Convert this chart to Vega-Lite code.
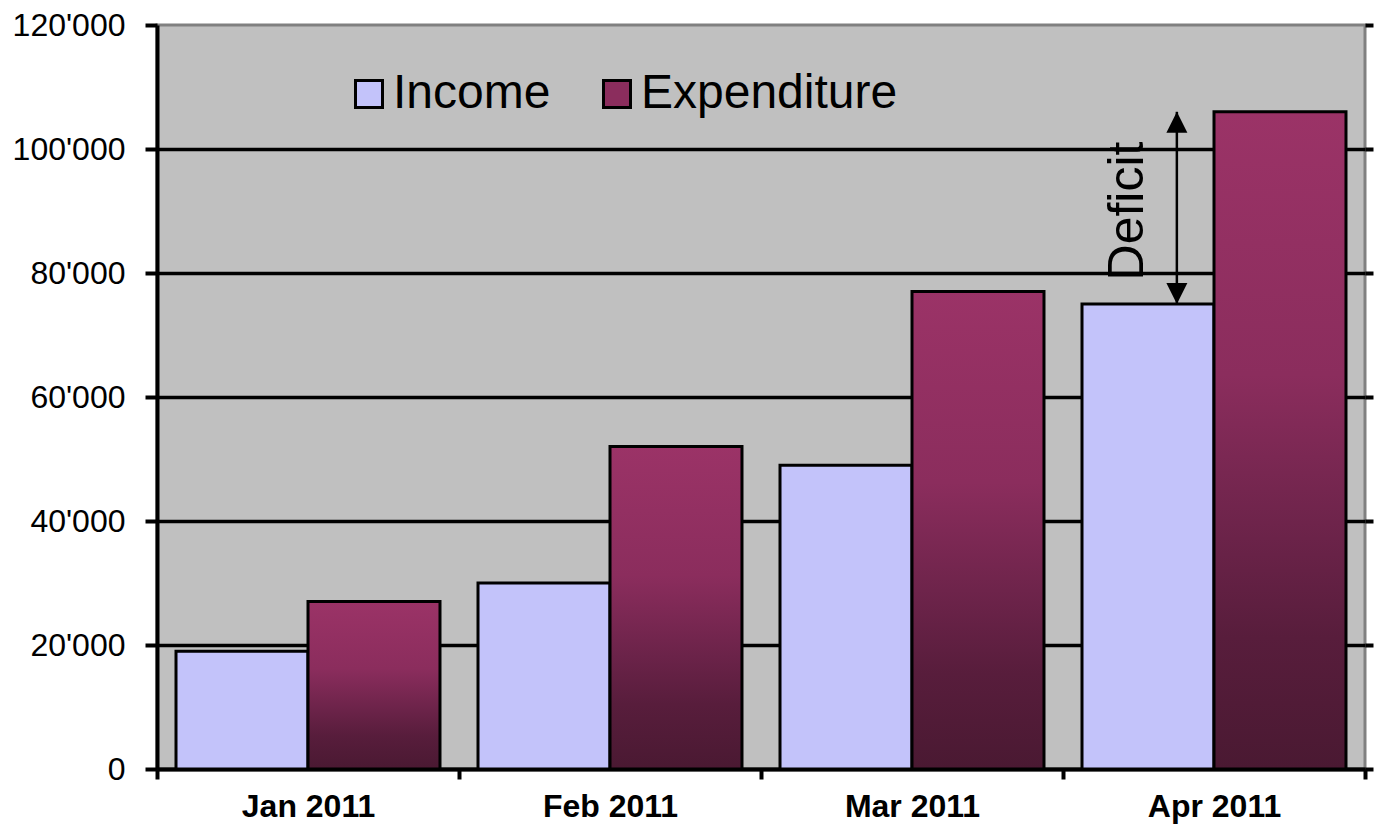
{
  "$schema": "https://vega.github.io/schema/vega-lite/v6.json",
  "width": 1208,
  "height": 744,
  "autosize": {"type": "none"},
  "padding": {"left": 157, "top": 25, "right": 9, "bottom": 56},
  "background": "white",
  "config": {
    "view": {"fill": "#c0c0c0", "stroke": "#808080", "strokeWidth": 3},
    "font": "Liberation Sans"
  },
  "datasets": {
    "bars": [
      {"month": "Jan 2011", "series": "Income", "value": 19000},
      {"month": "Jan 2011", "series": "Expenditure", "value": 27000},
      {"month": "Feb 2011", "series": "Income", "value": 30000},
      {"month": "Feb 2011", "series": "Expenditure", "value": 52000},
      {"month": "Mar 2011", "series": "Income", "value": 49000},
      {"month": "Mar 2011", "series": "Expenditure", "value": 77000},
      {"month": "Apr 2011", "series": "Income", "value": 75000},
      {"month": "Apr 2011", "series": "Expenditure", "value": 106000}
    ],
    "note": [
      {"month": "Apr 2011", "low": 75000, "high": 106000, "mid": 90000, "label": "Deficit"}
    ]
  },
  "layer": [
    {
      "data": {"name": "bars"},
      "transform": [{"filter": "datum.series === 'Income'"}],
      "mark": {"type": "bar", "stroke": "black", "strokeWidth": 3},
      "encoding": {
        "x": {
          "field": "month", "type": "nominal",
          "sort": ["Jan 2011", "Feb 2011", "Mar 2011", "Apr 2011"],
          "scale": {"paddingInner": 0, "paddingOuter": 0},
          "axis": {
            "title": null, "labelAngle": 0, "labelFontSize": 32, "labelFontWeight": "bold",
            "labelColor": "black", "labelPadding": 12, "tickBand": "extent", "tickSize": 10,
            "tickWidth": 4, "tickColor": "black", "domainColor": "black", "domainWidth": 4,
            "grid": false
          }
        },
        "xOffset": {
          "field": "series",
          "scale": {"domain": ["Income", "Expenditure"], "paddingInner": 0, "paddingOuter": 0.144}
        },
        "y": {
          "field": "value", "type": "quantitative",
          "scale": {"domain": [0, 120000], "nice": false},
          "axis": {
            "orient": "left", "title": null,
            "values": [0, 20000, 40000, 60000, 80000, 100000, 120000],
            "labelExpr": "replace(format(datum.value, ','), ',', \"'\")",
            "labelFontSize": 32, "labelColor": "black", "labelPadding": 20,
            "tickSize": 12, "tickWidth": 4, "tickColor": "black",
            "domainColor": "black", "domainWidth": 4,
            "grid": true, "gridWidth": 3.5,
            "gridColor": {"condition": {"test": "datum.value === 120000", "value": "transparent"}, "value": "black"}
          }
        },
        "color": {
          "field": "series", "type": "nominal",
          "scale": {"domain": ["Income", "Expenditure"], "range": ["#c3c3fa", "#8b2d5d"]},
          "legend": {
            "title": null, "orient": "none", "direction": "horizontal",
            "legendX": 188, "legendY": 45,
            "symbolType": "square", "symbolSize": 729,
            "symbolStrokeColor": "black", "symbolStrokeWidth": 3,
            "labelFontSize": 48, "labelColor": "black", "labelOffset": 0,
            "columnPadding": 42, "labelLimit": 400
          }
        }
      }
    },
    {
      "data": {"name": "bars"},
      "transform": [{"filter": "datum.series === 'Expenditure'"}],
      "mark": {
        "type": "bar", "stroke": "black", "strokeWidth": 3,
        "fill": {
          "gradient": "linear", "x1": 0, "y1": 0, "x2": 0, "y2": 1,
          "stops": [
            {"offset": 0, "color": "#9b3367"},
            {"offset": 0.4, "color": "#8b2d5d"},
            {"offset": 0.65, "color": "#6b2349"},
            {"offset": 0.8, "color": "#581d3c"},
            {"offset": 1, "color": "#4a1932"}
          ]
        }
      },
      "encoding": {
        "x": {"field": "month", "type": "nominal", "sort": ["Jan 2011", "Feb 2011", "Mar 2011", "Apr 2011"]},
        "xOffset": {"field": "series"},
        "y": {"field": "value", "type": "quantitative", "axis": null}
      }
    },
    {
      "data": {"name": "note"},
      "mark": {"type": "rule", "color": "black", "strokeWidth": 2.5},
      "encoding": {
        "x": {"field": "month", "type": "nominal", "sort": ["Jan 2011", "Feb 2011", "Mar 2011", "Apr 2011"], "bandPosition": 0.377},
        "y": {
          "field": "low", "type": "quantitative",
          "axis": {
            "orient": "right", "title": null, "labels": false, "domain": false, "grid": false,
            "values": [0, 20000, 40000, 60000, 80000, 100000, 120000],
            "tickSize": 8, "tickWidth": 4, "tickColor": "black"
          }
        },
        "y2": {"field": "high"}
      }
    },
    {
      "data": {"name": "note"},
      "mark": {"type": "point", "filled": true, "color": "black", "opacity": 1, "size": 441, "shape": "M0,0L-1,2L1,2Z"},
      "encoding": {
        "x": {"field": "month", "type": "nominal", "sort": ["Jan 2011", "Feb 2011", "Mar 2011", "Apr 2011"], "bandPosition": 0.377},
        "y": {"field": "high", "type": "quantitative", "axis": null}
      }
    },
    {
      "data": {"name": "note"},
      "mark": {"type": "point", "filled": true, "color": "black", "opacity": 1, "size": 441, "shape": "M0,0L-1,-2L1,-2Z"},
      "encoding": {
        "x": {"field": "month", "type": "nominal", "sort": ["Jan 2011", "Feb 2011", "Mar 2011", "Apr 2011"], "bandPosition": 0.377},
        "y": {"field": "low", "type": "quantitative", "axis": null}
      }
    },
    {
      "data": {"name": "note"},
      "mark": {"type": "text", "angle": 270, "fontSize": 50, "align": "center", "baseline": "alphabetic", "color": "black"},
      "encoding": {
        "x": {"field": "month", "type": "nominal", "sort": ["Jan 2011", "Feb 2011", "Mar 2011", "Apr 2011"], "bandPosition": 0.265},
        "y": {"field": "mid", "type": "quantitative", "axis": null},
        "text": {"field": "label"}
      }
    }
  ],
  "resolve": {"axis": {"y": "independent"}}
}
